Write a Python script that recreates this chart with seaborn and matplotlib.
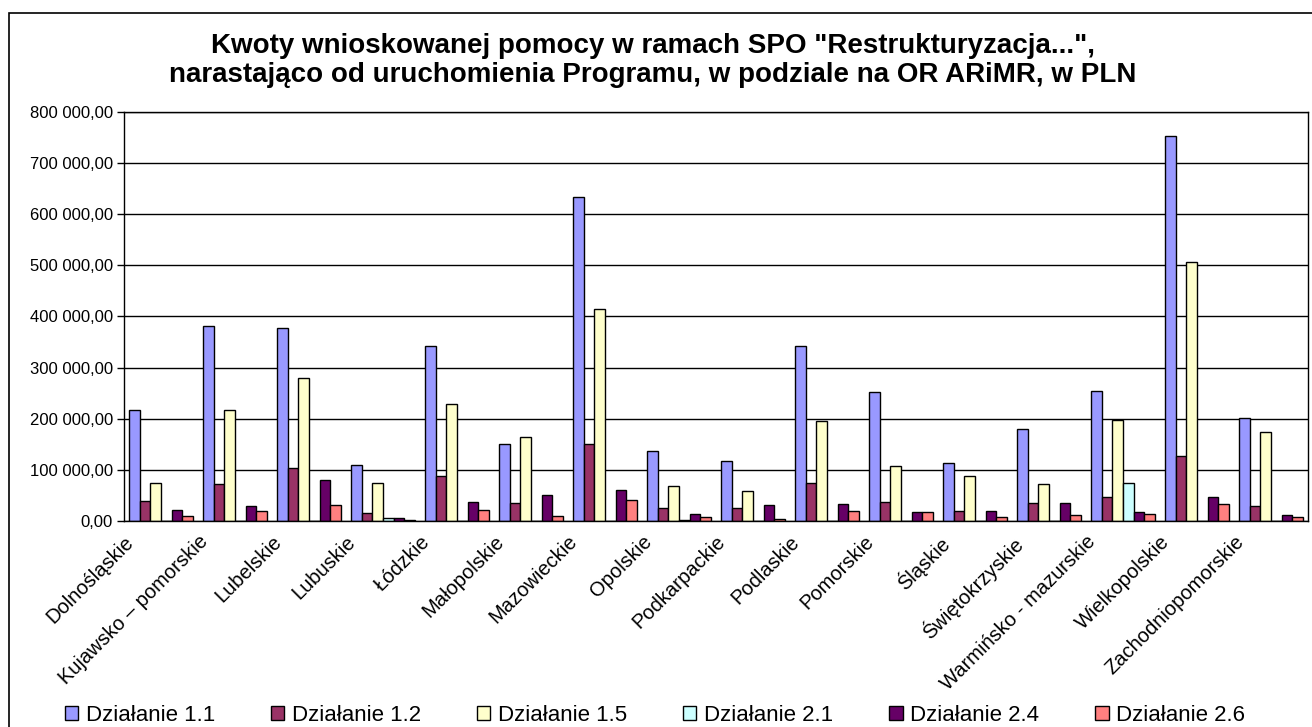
import matplotlib
matplotlib.use("Agg")
import matplotlib.pyplot as plt
import matplotlib.patches as patches
from matplotlib.ticker import FuncFormatter
import numpy as np
import pandas as pd
import seaborn as sns

sns.set_style("white")
plt.rcParams['font.family'] = ['Liberation Sans', 'DejaVu Sans']
plt.rcParams['text.color'] = 'black'
plt.rcParams['xtick.color'] = 'black'
plt.rcParams['ytick.color'] = 'black'

regions = ["Dolnośląskie", "Kujawsko – pomorskie", "Lubelskie", "Lubuskie", "Łódzkie",
           "Małopolskie", "Mazowieckie", "Opolskie", "Podkarpackie", "Podlaskie",
           "Pomorskie", "Śląskie", "Świętokrzyskie", "Warmińsko - mazurskie",
           "Wielkopolskie", "Zachodniopomorskie"]
series = ["Działanie 1.1", "Działanie 1.2", "Działanie 1.5", "Działanie 2.1",
          "Działanie 2.4", "Działanie 2.6"]

d11 = [217000, 381000, 378000, 109000, 342000, 151000, 634000, 136000,
       117000, 342000, 252000, 113000, 179000, 254000, 753000, 202000]
d12 = [40000, 73000, 104000, 16000, 88000, 35000, 151000, 26000,
       26000, 75000, 38000, 20000, 36000, 47000, 127000, 30000]
d15 = [75000, 216000, 280000, 75000, 229000, 165000, 415000, 68000,
       58000, 195000, 107000, 88000, 72000, 198000, 506000, 173000]
d21 = [0, 0, 0, 6000, 0, 0, 0, 1500,
       0, 0, 0, 0, 0, 75000, 0, 0]
d24 = [22000, 29000, 81000, 6000, 38000, 51000, 61000, 13000,
       31000, 34000, 18000, 20000, 36000, 18000, 47000, 11000]
d26 = [9000, 20000, 32000, 2000, 22000, 9000, 42000, 7000,
       4000, 20000, 18000, 7000, 11000, 14000, 34000, 7000]

colors = ["#9999FF", "#993366", "#FFFFCC", "#CCFFFF", "#660066", "#FF8080"]

rows = []
for s, vals in zip(series, [d11, d12, d15, d21, d24, d26]):
    for r, v in zip(regions, vals):
        rows.append({"region": r, "series": s, "value": v})
df = pd.DataFrame(rows)

fig = plt.figure(figsize=(13.12, 7.27), dpi=100)
ax = fig.add_axes([124 / 1312, 1 - 521 / 727, (1308 - 124) / 1312, (521 - 111.7) / 727])

sns.barplot(data=df, x="region", y="value", hue="series", palette=colors,
            order=regions, hue_order=series, width=6 / 7, edgecolor="black",
            linewidth=1, saturation=1, ax=ax, legend=True)

ax.set_ylim(0, 800000)
ax.set_xlim(-0.5, len(regions) - 0.5)
ax.set_yticks(np.arange(0, 800001, 100000))
ax.yaxis.set_major_formatter(FuncFormatter(
    lambda v, p: f"{v:,.2f}".replace(",", " ").replace(".", ",")))
ax.yaxis.grid(True, color="black", linewidth=1)
ax.set_axisbelow(True)
for sp in ax.spines.values():
    sp.set_visible(True)
    sp.set_color("black")
    sp.set_linewidth(1)

ax.set_xticks(np.arange(len(regions) + 1) - 0.5, labels=regions + [""])
plt.setp(ax.get_xticklabels(), rotation=45, ha="right", va="top",
         rotation_mode="anchor", fontsize=14.5)
ax.tick_params(axis="x", direction="out", length=5, width=1, color="black", pad=3)
ax.tick_params(axis="y", direction="out", length=5, width=1, color="black",
               labelsize=12, pad=3, left=True)
ax.set_xlabel("")
ax.set_ylabel("")

fig.text(0.4975, 0.917, "Kwoty wnioskowanej pomocy w ramach SPO \"Restrukturyzacja...\",\n"
         "narastająco od uruchomienia Programu, w podziale na OR ARiMR, w PLN",
         ha="center", va="center", fontsize=20, fontweight="bold", linespacing=1.12)

handles, labels = ax.get_legend_handles_labels()
ax.legend_.remove()
fig.legend(handles, labels, loc="lower left", ncol=6, mode="expand",
           bbox_to_anchor=(58 / 1312, -0.008, (1252 - 58) / 1312, 0.045), frameon=False,
           fontsize=16, handlelength=0.6, handleheight=0.6, handletextpad=0.35,
           borderaxespad=0.2, borderpad=0.1)

fig.add_artist(patches.Rectangle((9 / 1312, -0.02), 1.05, 1 - 13 / 727 + 0.02,
                                 transform=fig.transFigure, fill=False,
                                 edgecolor="black", linewidth=1.2))

fig.savefig("out.png", dpi=100, facecolor="white")
